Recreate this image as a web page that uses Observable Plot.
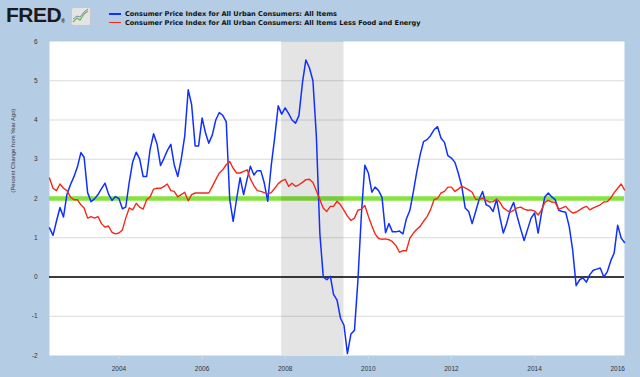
<!DOCTYPE html>
<html><head><meta charset="utf-8">
<script src="https://cdn.jsdelivr.net/npm/d3@7"></script>
<script src="https://cdn.jsdelivr.net/npm/@observablehq/plot@0.6"></script>
<style>
html,body{margin:0;padding:0;background:#b4cde5;}
#wrap{position:relative;width:640px;height:377px;background:#b4cde5;overflow:hidden;font-family:"Liberation Sans",Arial,sans-serif;}
#logo{position:absolute;left:6px;top:3px;font:bold 21px "Liberation Sans",Arial,sans-serif;letter-spacing:-0.5px;color:#1a1a1a;line-height:24px;}
#logo sup{font-size:5px;letter-spacing:0;vertical-align:-1px;}
#icon{position:absolute;left:71px;top:7px;}
.leg{position:absolute;left:109px;height:8px;line-height:8px;font:bold 6.6px "DejaVu Sans",Verdana,sans-serif;color:#111;white-space:nowrap;}
.leg span{display:inline-block;width:12px;height:1.5px;vertical-align:middle;margin-right:4px;}
#chart{position:absolute;left:0;top:0;}
</style></head>
<body>
<div id="wrap">
  <div id="logo">FRED<sup>®</sup></div>
  <svg id="icon" width="20" height="19"><rect x="0.5" y="0.5" width="19" height="18" rx="2" fill="#e4e4e4" stroke="#c8c8c8"/><polyline points="2,15 6,11 9,13 13,7 17,4" fill="none" stroke="#7ab648" stroke-width="1.3"/><polyline points="2,12 6,9 9,10 13,5 17,2" fill="none" stroke="#6c8fc0" stroke-width="1"/></svg>
  <div class="leg" style="top:10px"><span style="background:#1030ff"></span>Consumer Price Index for All Urban Consumers: All Items</div>
  <div class="leg" style="top:18.5px"><span style="background:#f22a1a"></span>Consumer Price Index for All Urban Consumers: All Items Less Food and Energy</div>
  <div id="chart"></div>
</div>
<script>
// Monthly series, starting May 2002, ending March 2016 (percent change from year ago)
const startMonth = [2002, 5];
const allItems = [
  1.25, 1.06, 1.42, 1.77, 1.53, 2.10, 2.35, 2.55,
  2.80, 3.17, 3.05, 2.15, 1.92, 1.99, 2.10, 2.25, 2.39, 2.12, 1.95, 2.05,
  2.00, 1.74, 1.78, 2.42, 2.93, 3.18, 3.01, 2.56, 2.56, 3.25, 3.65, 3.39,
  2.84, 3.03, 3.22, 3.38, 2.86, 2.56, 2.99, 3.58, 4.77, 4.39, 3.34, 3.34,
  4.05, 3.66, 3.41, 3.62, 4.00, 4.19, 4.12, 3.96, 1.97, 1.42, 2.00, 2.53,
  2.10, 2.50, 2.82, 2.60, 2.71, 2.71, 2.40, 1.93, 2.85, 3.55, 4.36, 4.15,
  4.31, 4.16, 4.00, 3.92, 4.11, 4.95, 5.53, 5.33, 5.00, 3.60, 1.10, 0.00,
  -0.07, 0.02, -0.44, -0.59, -1.05, -1.23, -1.95, -1.45, -1.36, -0.10, 1.60, 2.85,
  2.65, 2.16, 2.29, 2.20, 2.03, 1.13, 1.36, 1.15, 1.15, 1.17, 1.10, 1.48,
  1.70, 2.18, 2.65, 3.11, 3.45, 3.50, 3.60, 3.75, 3.83, 3.54, 3.43, 3.09,
  3.03, 2.92, 2.65, 2.31, 1.76, 1.67, 1.36, 1.67, 1.98, 2.18, 1.84, 1.80,
  1.67, 1.98, 1.54, 1.12, 1.37, 1.71, 1.90, 1.54, 1.22, 0.93, 1.22, 1.50,
  1.63, 1.12, 1.60, 2.04, 2.14, 2.04, 1.97, 1.70, 1.67, 1.65, 1.29, 0.70,
  -0.22, -0.07, -0.02, -0.13, 0.06, 0.17, 0.20, 0.23, 0.00, 0.13, 0.41, 0.61,
  1.32, 0.99, 0.88
];
const lessFoodEnergy = [
  2.52, 2.26, 2.20, 2.37, 2.26, 2.20, 2.04, 1.97,
  1.97, 1.84, 1.76, 1.50, 1.54, 1.50, 1.54, 1.36, 1.27, 1.30, 1.14, 1.10,
  1.12, 1.20, 1.50, 1.76, 1.71, 1.88, 1.78, 1.73, 1.97, 2.04, 2.24, 2.26,
  2.26, 2.31, 2.37, 2.20, 2.18, 2.04, 2.10, 2.16, 1.94, 2.10, 2.14, 2.14,
  2.14, 2.14, 2.14, 2.31, 2.48, 2.65, 2.73, 2.86, 2.94, 2.77, 2.65, 2.65,
  2.69, 2.73, 2.50, 2.33, 2.20, 2.18, 2.15, 2.12, 2.15, 2.26, 2.38, 2.45,
  2.49, 2.31, 2.39, 2.31, 2.35, 2.41, 2.48, 2.49, 2.41, 2.20, 1.97, 1.75,
  1.67, 1.80, 1.80, 1.93, 1.84, 1.70, 1.55, 1.44, 1.50, 1.70, 1.73, 1.82,
  1.55, 1.30, 1.10, 0.98, 0.96, 0.97, 0.95, 0.90, 0.80, 0.63, 0.67, 0.67,
  0.99, 1.12, 1.21, 1.29, 1.42, 1.54, 1.71, 1.97, 2.00, 2.14, 2.18, 2.29,
  2.29, 2.18, 2.24, 2.31, 2.27, 2.22, 2.16, 1.98, 1.97, 2.01, 1.95, 1.91,
  1.92, 1.98, 1.91, 1.76, 1.70, 1.65, 1.70, 1.76, 1.78, 1.73, 1.70, 1.71,
  1.68, 1.58, 1.70, 1.90, 1.95, 1.91, 1.90, 1.73, 1.76, 1.80, 1.70, 1.63,
  1.65, 1.71, 1.76, 1.80, 1.71, 1.76, 1.80, 1.84, 1.91, 1.92, 2.01, 2.15,
  2.26, 2.37, 2.22
];
const recession = [{start: "2007-12-01", end: "2009-06-01"}];
const xTickYears = [2004, 2006, 2008, 2010, 2012, 2014, 2016];
const yTicks = [-2, -1, 0, 1, 2, 3, 4, 5, 6];
const targetRate = [2];
const yTitle = "(Percent Change from Year Ago)";

const start = new Date(Date.UTC(startMonth[0], startMonth[1] - 1, 1));
const monthDate = i => d3.utcMonth.offset(start, i);
const series = [
  ...allItems.map((v, i) => ({date: monthDate(i), value: v, s: "all"})),
  ...lessFoodEnergy.map((v, i) => ({date: monthDate(i), value: v, s: "core"}))
];
const end = monthDate(allItems.length - 1);
const rec = recession.map(r => ({x1: new Date(r.start), x2: new Date(r.end)}));

const chart = Plot.plot({
  width: 640, height: 377,
  marginTop: 41, marginBottom: 22, marginLeft: 49, marginRight: 16,
  style: {background: "transparent", fontFamily: "'Liberation Sans', Arial, sans-serif", fontSize: "6.5px", color: "#333"},
  x: {type: "utc", domain: [start, end]},
  y: {domain: [-2, 6]},
  marks: [
    Plot.frame({fill: "white", stroke: null}),
    Plot.ruleY(yTicks.filter(d => d > -2 && d < 6), {stroke: "#dadada", strokeWidth: 1}),
    Plot.ruleY(targetRate, {stroke: "#84e33e", strokeWidth: 4.5}),
    Plot.rect(rec, {x1: "x1", x2: "x2", fill: "#000", fillOpacity: 0.105}),
    Plot.ruleY([0], {stroke: "#000", strokeWidth: 1.4}),
    Plot.lineY(series.filter(d => d.s === "all"), {x: "date", y: "value", stroke: "#1030ff", strokeWidth: 1.5}),
    Plot.lineY(series.filter(d => d.s === "core"), {x: "date", y: "value", stroke: "#f22a1a", strokeWidth: 1.4}),
    Plot.axisX({ticks: xTickYears.map(y => new Date(Date.UTC(y, 0, 1))), tickFormat: d3.utcFormat("%Y"), tickSize: 4, tickPadding: 7, stroke: "#cddcea", fill: "#333", label: null}),
    Plot.axisY({ticks: yTicks, tickFormat: d => String(d), tickSize: 0, tickPadding: 12, fill: "#333", label: null}),
    Plot.text([yTitle], {frameAnchor: "left", dx: -36, dy: -6, rotate: -90, fontSize: 5.8, fill: "#333", text: d => d})
  ]
});
document.getElementById("chart").appendChild(chart);
</script>
</body></html>
